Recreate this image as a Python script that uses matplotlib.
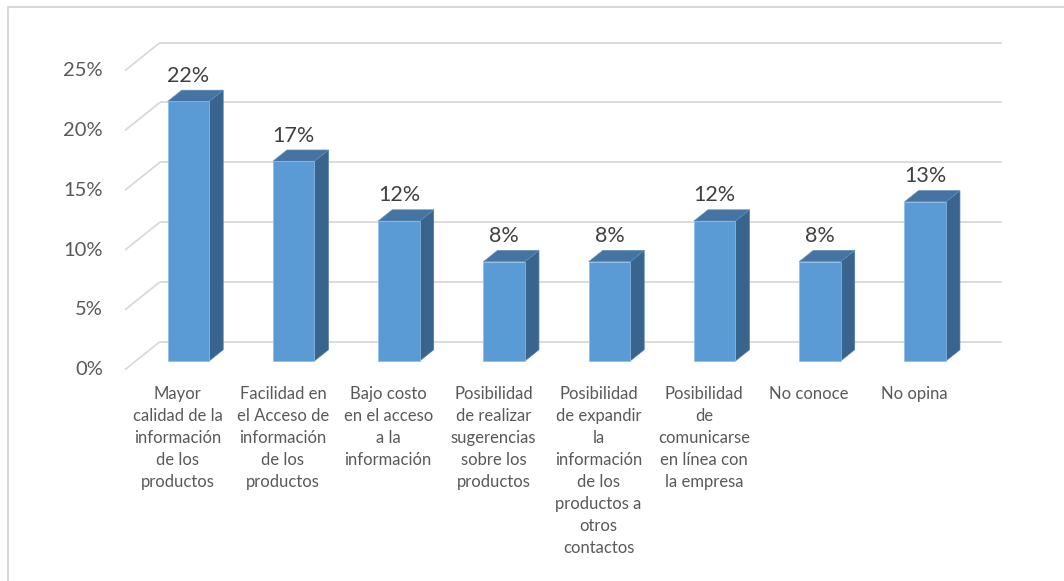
import numpy as np
import matplotlib.pyplot as plt
from matplotlib.patches import Polygon, Rectangle

# survey answers (share of respondents)
categories = [
    "Mayor\ncalidad de la\ninformación\nde los\nproductos",
    "Facilidad en\nel Acceso de\ninformación\nde los\nproductos",
    "Bajo costo\nen el acceso\na la\ninformación",
    "Posibilidad\nde realizar\nsugerencias\nsobre los\nproductos",
    "Posibilidad\nde expandir\nla\ninformación\nde los\nproductos a\notros\ncontactos",
    "Posibilidad\nde\ncomunicarse\nen línea con\nla empresa",
    "No conoce",
    "No opina",
]
values = [0.217, 0.167, 0.117, 0.083, 0.083, 0.117, 0.083, 0.133]
yticks = [0.0, 0.05, 0.10, 0.15, 0.20, 0.25]

FRONT = "#5B9BD5"
TOP = "#4674A2"
SIDE = "#38648E"
GRID = "#D9D9D9"
TEXT = "#595959"

plt.rcParams["font.family"] = ["Lato", "DejaVu Sans"]

fig = plt.figure(figsize=(10.64, 5.81), dpi=100)
W, H = 1064, 581

# chart border (only top/left edges fall inside the image)
fig.patches.append(Rectangle((8 / W, -0.1), 1.2, (H - 7) / H + 0.1,
                             transform=fig.transFigure, fill=False,
                             edgecolor=GRID, linewidth=1.5))

# front plane of the 3D plot area
ax = fig.add_axes([125 / W, (H - 369.6) / H, 842 / W, 299 / H])
ax.set_xlim(-0.5, len(values) - 0.5)
ax.set_ylim(0, 0.25)
ax.axis("off")

# depth vector of the oblique projection, in data units
DX = 35 / 105.25
DY = 28 / 1196.0


def proj(x, y, d):
    return (x + d * DX, y + d * DY)


# walls: gridlines on the back wall and diagonals on the side wall
x_left, x_right = -0.5, len(values) - 0.5
for t in yticks:
    bx0, by0 = proj(x_left, t, 1)
    bx1, by1 = proj(x_right, t, 1)
    ax.plot([bx0, bx1], [by0, by1], color=GRID, lw=1.3, clip_on=False,
            zorder=1, solid_capstyle="butt")
    ax.plot([x_left, bx0], [t, by0], color=GRID, lw=1.3, clip_on=False,
            zorder=1, solid_capstyle="butt")
    ax.annotate(f"{t:.0%}", (x_left, t), xytext=(-16, 0),
                textcoords="offset points", ha="right", va="center",
                fontsize=14.5, color=TEXT, annotation_clip=False)

# 3D columns
bw = 0.394
d0, d1 = 0.31, 0.71
for i, v in enumerate(values):
    xl, xr = i - bw / 2, i + bw / 2
    front = [proj(xl, 0, d0), proj(xr, 0, d0), proj(xr, v, d0), proj(xl, v, d0)]
    side = [proj(xr, 0, d0), proj(xr, 0, d1), proj(xr, v, d1), proj(xr, v, d0)]
    top = [proj(xl, v, d0), proj(xr, v, d0), proj(xr, v, d1), proj(xl, v, d1)]
    ax.add_patch(Polygon(side, closed=True, facecolor=SIDE, edgecolor="#4F7FAE",
                         lw=0.5, clip_on=False, zorder=3))
    ax.add_patch(Polygon(top, closed=True, facecolor=TOP, edgecolor="#5E8DBB",
                         lw=0.5, clip_on=False, zorder=3))
    ax.add_patch(Polygon(front, closed=True, facecolor=FRONT, edgecolor="#8DBBE4",
                         lw=0.5, clip_on=False, zorder=4))
    lx, ly = proj(i, v, d0)
    _, ty = proj(i, v, d1)
    ax.annotate(f"{v:.0%}", (lx, ty), xytext=(0, 6), textcoords="offset points",
                ha="center", va="baseline", fontsize=15.5, color="#404040",
                annotation_clip=False, zorder=5)

# category labels under the floor
for i, lab in enumerate(categories):
    ax.annotate(lab, (i, 0), xytext=(0, -11.5), textcoords="offset points",
                ha="center", va="top", fontsize=12, color=TEXT,
                linespacing=1.47, annotation_clip=False)

fig.savefig("out.png", dpi=100, facecolor="white")
